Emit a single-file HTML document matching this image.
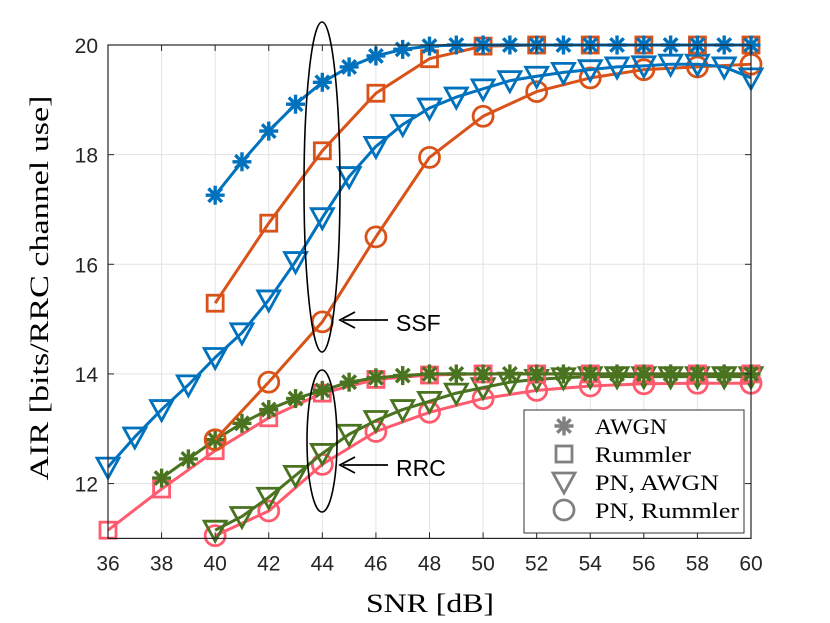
<!DOCTYPE html>
<html><head><meta charset="utf-8"><style>
html,body{margin:0;padding:0;background:#fff;}
svg{display:block;}
</style></head><body>
<svg id="chart" width="830" height="623" xmlns="http://www.w3.org/2000/svg">
<rect x="0" y="0" width="830" height="623" fill="#fff"/>
<g id="grid"></g>
<g id="series"></g>
<g id="axes"></g>
<g id="annot">
<ellipse cx="322" cy="187" rx="18" ry="165" fill="none" stroke="#000" stroke-width="1.6"/>
<ellipse cx="322" cy="441" rx="15" ry="71" fill="none" stroke="#000" stroke-width="1.6"/>
<line x1="388" y1="320" x2="343" y2="320" stroke="#000" stroke-width="1.8"/>
<polyline points="355,312 340,320 355,328" fill="none" stroke="#000" stroke-width="1.8"/>
<text x="396" y="331" font-family="Liberation Sans, sans-serif" font-size="23">SSF</text>
<line x1="388" y1="465" x2="343" y2="465" stroke="#000" stroke-width="1.8"/>
<polyline points="355,457 340,465 355,473" fill="none" stroke="#000" stroke-width="1.8"/>
<text x="396" y="476" font-family="Liberation Sans, sans-serif" font-size="23">RRC</text>
</g>
<g id="legend">
<rect x="524" y="410" width="220" height="123" fill="#fff" stroke="#333" stroke-width="1"/>
</g>
<text x="430" y="612" text-anchor="middle" font-family="Liberation Serif, serif" font-size="26" textLength="128" lengthAdjust="spacingAndGlyphs">SNR [dB]</text>
<text transform="translate(48,288) rotate(-90)" text-anchor="middle" font-family="Liberation Serif, serif" font-size="26" textLength="385" lengthAdjust="spacingAndGlyphs">AIR [bits/RRC channel use]</text>
</svg>
<script>
const xTicks=[36,38,40,42,44,46,48,50,52,54,56,58,60];
const yTicks=[12,14,16,18,20];
const xsStep1From40=[40,41,42,43,44,45,46,47,48,49,50,51,52,53,54,55,56,57,58,59,60];
const xsStep2From40=[40,42,44,46,48,50,52,54,56,58,60];
const xsStep1From36=[36,37,38,39,40,41,42,43,44,45,46,47,48,49,50,51,52,53,54,55,56,57,58,59,60];
const xsStep1From38=[38,39,40,41,42,43,44,45,46,47,48,49,50,51,52,53,54,55,56,57,58,59,60];
const xsStep2From36=[36,38,40,42,44,46,48,50,52,54,56,58,60];
const awgnSSF=[17.26,17.87,18.43,18.92,19.32,19.6,19.8,19.92,19.98,20,20,20,20,20,20,20,20,20,20,20,20];
const rummlerSSF=[15.29,16.75,18.07,19.12,19.75,19.98,20,20,20,20,20];
const pnAwgnSSF=[12.3,12.85,13.35,13.8,14.3,14.75,15.35,16.05,16.85,17.6,18.15,18.55,18.85,19.05,19.2,19.35,19.43,19.5,19.55,19.6,19.62,19.65,19.65,19.6,19.4];
const pnRummlerSSF=[12.8,13.85,14.95,16.5,17.95,18.7,19.15,19.4,19.55,19.6,19.65];
const awgnRRC=[12.1,12.45,12.8,13.1,13.35,13.55,13.7,13.85,13.93,13.97,14,14,14,14,14,14,14,14,14,14,14,14,14];
const rummlerRRC=[11.15,11.9,12.6,13.2,13.65,13.9,13.98,14,14,14,14,14,14];
const pnAwgnRRC=[11.15,11.4,11.75,12.15,12.55,12.9,13.15,13.35,13.5,13.65,13.75,13.85,13.9,13.93,13.95,13.95,13.95,13.95,13.95,13.95,13.95];
const pnRummlerRRC=[11.05,11.5,12.35,12.95,13.3,13.55,13.7,13.78,13.82,13.83,13.83];

const L=108,R=751,T=45,B=538.4,XMIN=36,XMAX=60,YMIN=11,YMAX=20;
const sx=v=>L+(v-XMIN)/(XMAX-XMIN)*(R-L);
const sy=v=>B-(v-YMIN)/(YMAX-YMIN)*(B-T);
const NS='http://www.w3.org/2000/svg';
function mk(tag,attrs,parent){const e=document.createElementNS(NS,tag);for(const k in attrs)e.setAttribute(k,attrs[k]);parent.appendChild(e);return e;}
const grid=document.getElementById('grid'),axes=document.getElementById('axes'),ser=document.getElementById('series'),leg=document.getElementById('legend');
mk('rect',{x:L,y:T,width:R-L,height:B-T,fill:'#fff'},grid);
xTicks.forEach(t=>{
 const g=mk('line',{x1:sx(t),x2:sx(t),y1:T,y2:B,stroke:'#e3e3e3','stroke-width':1},grid);
 
 
 mk('line',{x1:sx(t),x2:sx(t),y1:B,y2:B-6,stroke:'#262626','stroke-width':1},axes);
 mk('line',{x1:sx(t),x2:sx(t),y1:T,y2:T+6,stroke:'#262626','stroke-width':1},axes);
 const tx=mk('text',{x:sx(t),y:B+32,'text-anchor':'middle','font-family':'Liberation Sans, sans-serif','font-size':21,fill:'#262626'},axes);
 tx.textContent=t;
 
 
});
yTicks.forEach(t=>{
 const g=mk('line',{x1:L,x2:R,y1:sy(t),y2:sy(t),stroke:'#e3e3e3','stroke-width':1},grid);
 
 
 mk('line',{x1:L,x2:L+6,y1:sy(t),y2:sy(t),stroke:'#262626','stroke-width':1},axes);
 mk('line',{x1:R,x2:R-6,y1:sy(t),y2:sy(t),stroke:'#262626','stroke-width':1},axes);
 const tx=mk('text',{x:L-10,y:sy(t)+8,'text-anchor':'end','font-family':'Liberation Sans, sans-serif','font-size':21,fill:'#262626'},axes);
 tx.textContent=t;
 
 
});
const frame=mk('rect',{x:L,y:T,width:R-L,height:B-T,fill:'none',stroke:'#262626','stroke-width':1.2},axes);



function marker(type,x,y,color,parent){
 const w=2.8;
 if(type==='star'){
  const g=mk('g',{stroke:color,'stroke-width':3.4,'stroke-linecap':'butt'},parent);
  const r=9.5;
  for(let i=0;i<4;i++){const a=i*Math.PI/4+Math.PI/2;mk('line',{x1:x-r*Math.cos(a),y1:y-r*Math.sin(a),x2:x+r*Math.cos(a),y2:y+r*Math.sin(a)},g);}
  return g;
 }
 if(type==='square') return mk('rect',{x:x-8,y:y-8,width:16,height:16,fill:'none',stroke:color,'stroke-width':w},parent);
 if(type==='tri') return mk('polygon',{points:`${x-11},${y-9} ${x+11},${y-9} ${x},${y+11}`,fill:'none',stroke:color,'stroke-width':w,'stroke-linejoin':'miter'},parent);
 return mk('circle',{cx:x,cy:y,r:10,fill:'none',stroke:color,'stroke-width':w},parent);
}
const BLUE='#0072BD',ORANGE='#D95319',GREEN='#4A7320',PINK='#FF5A6E';
const seriesList=[
 ['pn-rummler-rrc',xsStep2From40,pnRummlerRRC,PINK,'circle'],
 ['pn-awgn-rrc',xsStep1From40,pnAwgnRRC,GREEN,'tri'],
 ['rummler-rrc',xsStep2From36,rummlerRRC,PINK,'square'],
 ['awgn-rrc',xsStep1From38,awgnRRC,GREEN,'star'],
 ['pn-rummler-ssf',xsStep2From40,pnRummlerSSF,ORANGE,'circle'],
 ['pn-awgn-ssf',xsStep1From36,pnAwgnSSF,BLUE,'tri'],
 ['rummler-ssf',xsStep2From40,rummlerSSF,ORANGE,'square'],
 ['awgn-ssf',xsStep1From40,awgnSSF,BLUE,'star']
];
seriesList.forEach(([name,xs,ys,col,m])=>{
 const g=mk('g',{},ser);
 
 
 const pl=mk('polyline',{points:xs.map((x,i)=>sx(x)+','+sy(ys[i])).join(' '),fill:'none',stroke:col,'stroke-width':3,'stroke-linejoin':'round'},g);
 
 
 xs.forEach((x,i)=>{
  const mm=marker(m,sx(x),sy(ys[i]),col,g);
  
  
 });
});
const legLabels=['AWGN','Rummler','PN, AWGN','PN, Rummler'];
const legLens=[72,96,124,144];
const legMarks=['star','square','tri','circle'];
legLabels.forEach((lab,i)=>{
 const y=426+i*28;
 const mm=marker(legMarks[i],564,y,'#808080',leg);
 
 
 const t=mk('text',{x:595,y:y+8,'font-family':'Liberation Serif, serif','font-size':22,fill:'#000',textLength:legLens[i],lengthAdjust:'spacingAndGlyphs'},leg);
 t.textContent=lab;
 
 
});
</script>
</body></html>
